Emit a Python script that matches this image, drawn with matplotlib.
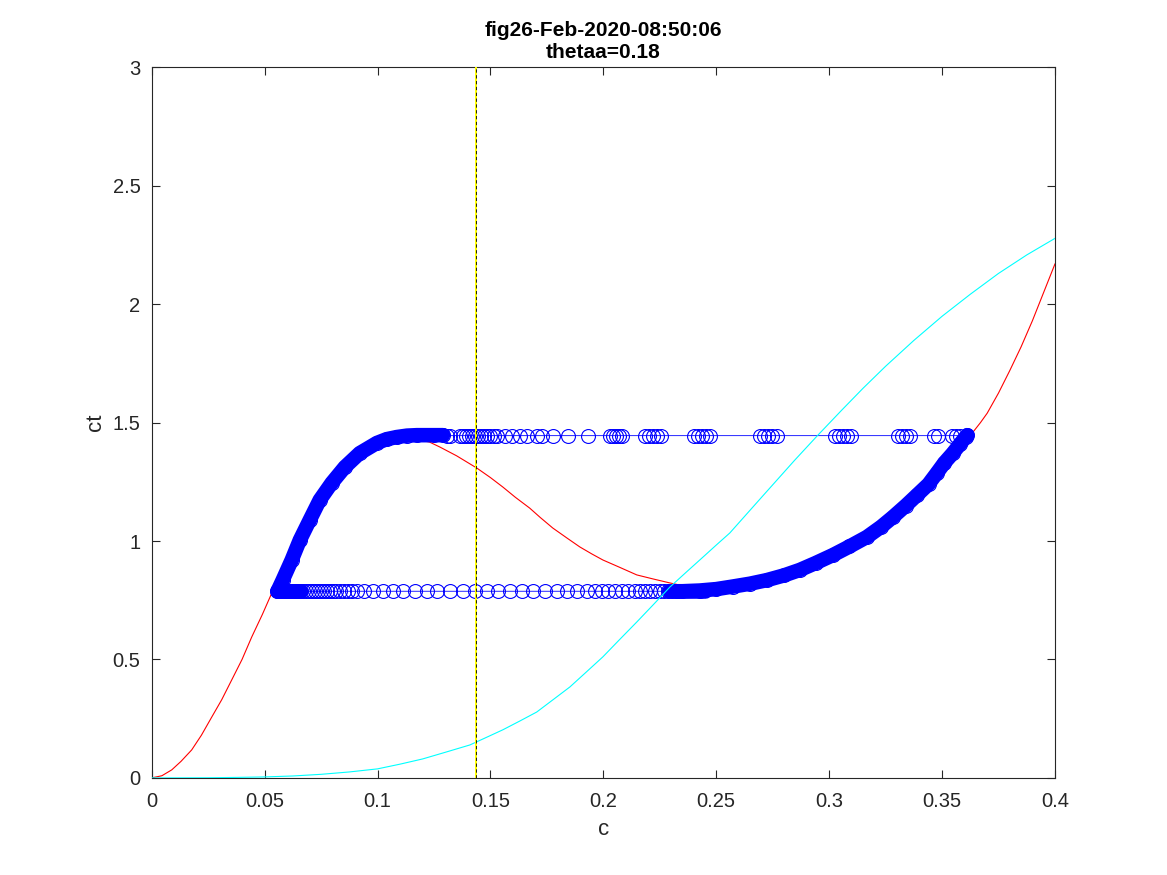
import numpy as np
import matplotlib
matplotlib.use('Agg')
import matplotlib.pyplot as plt
from matplotlib.ticker import FuncFormatter

plt.rcParams['font.family'] = ['Liberation Sans', 'DejaVu Sans']

# ── Data ──────────────────────────────────────────────────
red_c = [0.0, 0.0045, 0.0089, 0.013, 0.0177, 0.022, 0.0266, 0.031, 0.0354, 0.040,
         0.0443, 0.049, 0.0532, 0.058, 0.062, 0.0656, 0.070, 0.0744, 0.0797,
         0.0855, 0.0921, 0.0997, 0.1085, 0.1187, 0.123, 0.1276, 0.135, 0.144,
         0.150, 0.1555, 0.161, 0.1674, 0.172, 0.1776, 0.184, 0.1896, 0.195,
         0.1998, 0.207, 0.2148, 0.222, 0.2295, 0.235, 0.240, 0.250, 0.2574,
         0.265, 0.2724, 0.280, 0.287, 0.294, 0.3017, 0.309, 0.3167, 0.323,
         0.3282, 0.334, 0.3389, 0.344, 0.3477, 0.351, 0.3548, 0.358, 0.3605,
         0.3637, 0.367, 0.370, 0.375, 0.380, 0.385, 0.390, 0.395, 0.400]
red_ct = [0.0, 0.009, 0.034, 0.070, 0.118, 0.180, 0.257, 0.330, 0.413, 0.500,
          0.595, 0.690, 0.781, 0.835, 0.920, 1.004, 1.089, 1.173, 1.245,
          1.312, 1.371, 1.414, 1.439, 1.426, 1.418, 1.397, 1.360, 1.308,
          1.268, 1.228, 1.185, 1.139, 1.100, 1.055, 1.012, 0.975, 0.945,
          0.920, 0.890, 0.857, 0.840, 0.823, 0.812, 0.805, 0.800, 0.810,
          0.820, 0.835, 0.855, 0.878, 0.907, 0.941, 0.977, 1.017, 1.060,
          1.101, 1.150, 1.194, 1.240, 1.287, 1.330, 1.371, 1.410, 1.440,
          1.460, 1.500, 1.540, 1.625, 1.720, 1.820, 1.930, 2.050, 2.170]

cyan_c = [0.0, 0.0125, 0.025, 0.0375, 0.05, 0.0625, 0.075, 0.0875, 0.1, 0.11,
          0.12, 0.13, 0.1409, 0.148, 0.1555, 0.163, 0.1705, 0.178, 0.1852,
          0.192, 0.1998, 0.207, 0.2148, 0.222, 0.2295, 0.237, 0.2441, 0.25,
          0.256, 0.27, 0.2848, 0.295, 0.3056, 0.315, 0.325, 0.3375, 0.35,
          0.3625, 0.375, 0.3875, 0.4]
cyan_ct = [0.0, 0.0001, 0.0005, 0.002, 0.004, 0.008, 0.015, 0.025, 0.038, 0.058,
           0.080, 0.108, 0.139, 0.170, 0.203, 0.240, 0.278, 0.332, 0.384,
           0.443, 0.511, 0.582, 0.658, 0.730, 0.806, 0.871, 0.932, 0.983,
           1.034, 1.184, 1.342, 1.447, 1.553, 1.645, 1.738, 1.847, 1.949,
           2.042, 2.130, 2.208, 2.278]

# slow branch on the left (bottom -> top)
left_c = [0.0558, 0.058, 0.062, 0.0656, 0.070, 0.0744, 0.0797, 0.0855, 0.0921,
          0.0997, 0.104, 0.1085, 0.113, 0.1174, 0.1250, 0.1290]
left_ct = [0.790, 0.835, 0.920, 1.004, 1.089, 1.173, 1.245, 1.312, 1.371,
           1.414, 1.430, 1.439, 1.445, 1.447, 1.447, 1.447]

# upper jump (left -> right)
top_c = [0.1307, 0.1320, 0.1364, 0.1378, 0.1391, 0.1404, 0.1417, 0.1431, 0.1444,
         0.1457, 0.1471, 0.1484, 0.1497, 0.1515, 0.1528, 0.1564, 0.1595, 0.1630,
         0.1661, 0.1705, 0.1728, 0.1776, 0.1843, 0.1931, 0.2029, 0.2042, 0.2055,
         0.2069, 0.2082, 0.2184, 0.2202, 0.2219, 0.2237, 0.2255, 0.2401, 0.2419,
         0.2436, 0.2454, 0.2472, 0.2693, 0.2711, 0.2729, 0.2746, 0.2769, 0.3025,
         0.3043, 0.3061, 0.3079, 0.3096, 0.3305, 0.3322, 0.3340, 0.3358, 0.3464,
         0.3482, 0.3544, 0.3561, 0.3579]
top_ct = [1.445] * len(top_c)

# slow branch on the right (top -> bottom)
right_c = [0.3612, 0.3605, 0.358, 0.3548, 0.351, 0.3477, 0.344, 0.3389, 0.334,
           0.3282, 0.323, 0.3167, 0.309, 0.3017, 0.294, 0.2870, 0.280, 0.2724,
           0.265, 0.2574, 0.2500, 0.2427, 0.2350, 0.2330]
right_ct = [1.447, 1.440, 1.410, 1.371, 1.330, 1.287, 1.240, 1.194, 1.150,
            1.101, 1.060, 1.017, 0.977, 0.941, 0.907, 0.878, 0.855, 0.835,
            0.820, 0.808, 0.797, 0.791, 0.788, 0.788]

# lower jump (right -> left)
low_c = [0.2321, 0.2303, 0.2286, 0.2268, 0.2250, 0.2228, 0.2206, 0.2184, 0.2162,
         0.2140, 0.2109, 0.2082, 0.2051, 0.2020, 0.1993, 0.1962, 0.1927, 0.1883,
         0.1838, 0.1794, 0.1741, 0.1688, 0.1639, 0.1586, 0.1533, 0.1484, 0.1431,
         0.1378, 0.1320, 0.1262, 0.1218, 0.1165, 0.1112, 0.1068, 0.1023, 0.0979,
         0.0939, 0.0908, 0.0886, 0.0868, 0.0850, 0.0833, 0.0815, 0.0802, 0.0788,
         0.0775, 0.0762, 0.0749, 0.0735, 0.0722, 0.0709, 0.0695, 0.0682, 0.0669,
         0.0656, 0.0642, 0.0629, 0.0616, 0.0602, 0.0589, 0.0576, 0.0565, 0.0555]
low_ct = [0.788] * len(low_c)

c_mark = 0.1436
x_ticks = [0, 0.05, 0.1, 0.15, 0.2, 0.25, 0.3, 0.35, 0.4]
y_ticks = [0, 0.5, 1, 1.5, 2, 2.5, 3]

ax_col = '#262626'
blue = '#0000ff'

fig = plt.figure(figsize=(11.67, 8.75), dpi=100)
ax = fig.add_axes([0.13, 0.111, 0.774, 0.812])

ax.plot(red_c, red_ct, color='red', lw=0.8, zorder=2)

traj_c = left_c + top_c + right_c + low_c
traj_ct = left_ct + top_ct + right_ct + low_ct
ax.plot(traj_c, traj_ct, color=blue, lw=0.6, marker='o', ms=10,
        mfc='none', mec=blue, mew=0.8, zorder=3)
# dense slow branches appear as a solid band
for bc, bct in [(left_c, left_ct), (right_c, right_ct)]:
    ax.plot(bc, bct, color=blue, lw=10.5, solid_capstyle='round',
            solid_joinstyle='round', zorder=3)
ax.plot([0.0555, 0.066], [0.788, 0.788], color=blue, lw=10.5,
        solid_capstyle='round', zorder=3)
ax.plot([0.2290, 0.2450], [0.788, 0.788], color=blue, lw=10.5,
        solid_capstyle='round', zorder=3)

ax.plot(cyan_c, cyan_ct, color='cyan', lw=0.8, zorder=4)

ax.axvline(c_mark, color='yellow', lw=1.4, zorder=5)
ax.axvline(c_mark, color='black', lw=0.6, ls=(0, (4, 3)), zorder=6)

ax.set_xlim(0, 0.4)
ax.set_ylim(0, 3)
ax.set_xticks(x_ticks)
ax.set_yticks(y_ticks)
fmt = FuncFormatter(lambda v, p: f'{v:g}')
ax.xaxis.set_major_formatter(fmt)
ax.yaxis.set_major_formatter(fmt)
ax.tick_params(direction='in', length=6, width=0.8, colors=ax_col,
               labelsize=14.5, top=True, right=True)
ax.tick_params(axis='x', pad=10)
ax.tick_params(axis='y', pad=8)
for s in ax.spines.values():
    s.set_color(ax_col)
    s.set_linewidth(0.8)

ax.set_xlabel('c', fontsize=16, color=ax_col, labelpad=6)
ax.set_ylabel('ct', fontsize=16, color=ax_col, labelpad=5)
ax.set_title('fig26-Feb-2020-08:50:06\nthetaa=0.18', fontsize=15,
             fontweight='bold', color='black', pad=7, linespacing=1.15)

fig.savefig('out.png', dpi=100)
